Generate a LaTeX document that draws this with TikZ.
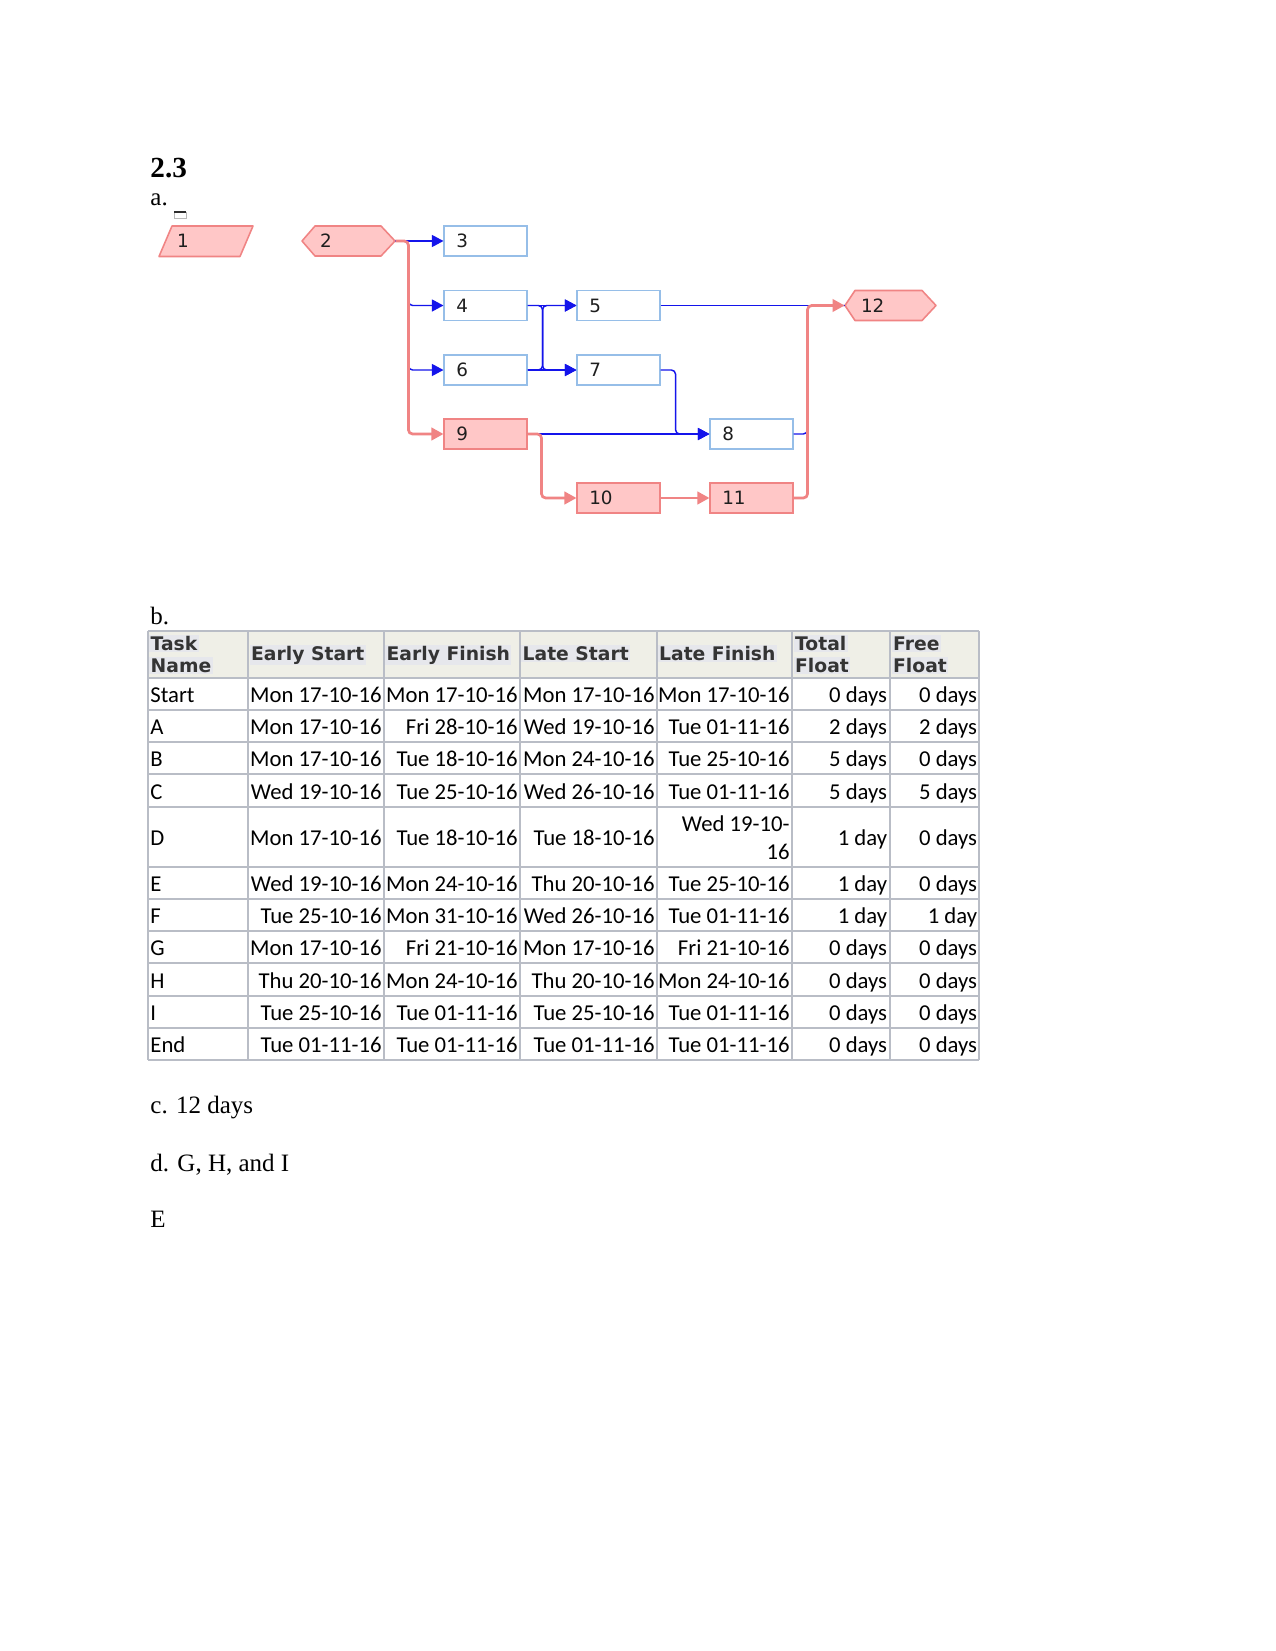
\documentclass[tikz,border=0pt]{standalone}
\usepackage{fontspec}
\setmainfont{Liberation Serif}
\newfontfamily\nodefont{DejaVu Sans}
\newfontfamily\tabfont{Carlito}
\usetikzlibrary{arrows.meta}
\definecolor{pinkfill}{RGB}{255,199,199}
\definecolor{pinkline}{RGB}{240,132,132}
\definecolor{boxblue}{RGB}{150,190,232}
\definecolor{linkblue}{RGB}{20,20,235}
\definecolor{headfill}{RGB}{239,239,231}
\definecolor{headhl}{RGB}{230,231,236}
\definecolor{gridgray}{RGB}{185,189,198}
\definecolor{headtext}{RGB}{52,52,52}
\definecolor{txt}{RGB}{30,30,30}
\tikzset{
  tbox/.style={rectangle, draw=boxblue, fill=white, line width=0.75pt,
    minimum height=14.4pt, inner ysep=0pt, inner xsep=5.76pt, text width=28.08pt,
    align=left, font=\nodefont\fontsize{8.8}{10}\selectfont, text=txt},
  cbox/.style={tbox, draw=pinkline, fill=pinkfill},
  shapelabel/.style={rectangle, minimum height=14.4pt, inner ysep=0pt, align=left,
    font=\nodefont\fontsize{8.8}{10}\selectfont, text=txt},
  critshape/.style={draw=pinkline, fill=pinkfill, line width=0.75pt, line join=round},
  bl/.style={linkblue, line width=0.7pt, rounded corners=2pt},
  rd/.style={pinkline, line width=1.3pt, rounded corners=2pt},
  btip/.style={-{Triangle[length=5.6pt,width=5.8pt]}},
  rtip/.style={-{Triangle[length=5.8pt,width=6pt]}},
  cell/.style={inner sep=0pt, font=\tabfont\fontsize{10.9}{12}\selectfont, text=black},
  head/.style={inner sep=0.6pt, fill=headhl, text=headtext, font=\nodefont\bfseries\fontsize{9}{10}\selectfont},
  gridline/.style={gridgray, line width=0.6pt},
  para/.style={inner sep=0pt, font=\fontsize{12}{14}\selectfont},
}
\begin{document}
\begin{tikzpicture}[x=0.48pt,y=-0.48pt]
\fill[white] (0,0) rectangle (1275,1651);
\useasboundingbox (0,0) rectangle (1275,1651);

% headings
\node[anchor=base west, inner sep=0pt, font=\fontsize{14}{16}\selectfont\bfseries] (title) at (150,178) {2.3};
\node[para, anchor=base west] (pa) at (150,206) {a.};
\draw[gray!55, line width=0.4pt] (174,212) rectangle (186,218);
\draw[gray!35!black, line width=0.7pt] (174,212) -- (186,212);

% shapes of 1, 2, 12
\filldraw[critshape] (172,226) -- (253,226) -- (240,256.5) -- (159,256.5) -- cycle;
\node[shapelabel, minimum width=45.12pt, text width=27.84pt, inner xsep=8.64pt] (n1) at (206,241) {1};
\filldraw[critshape] (302,241) -- (315,226) -- (381,226) -- (395,241) -- (381,256) -- (315,256) -- cycle;
\node[shapelabel, minimum width=44.64pt, text width=27.36pt, inner xsep=8.64pt] (n2) at (348.5,241) {2};
\filldraw[critshape] (845,305.5) -- (855,290.5) -- (922,290.5) -- (936,305.5) -- (922,320.5) -- (855,320.5) -- cycle;
\node[shapelabel, minimum width=43.68pt, text width=28.32pt, inner xsep=7.68pt] (n12) at (890.5,305.5) {12};

% boxes
\node[tbox] (n3) at (485.5,241) {3};
\node[tbox] (n4) at (485.5,305.5) {4};
\node[tbox] (n6) at (485.5,370) {6};
\node[cbox] (n9) at (485.5,434) {9};
\node[tbox] (n5) at (618.5,305.5) {5};
\node[tbox] (n7) at (618.5,370) {7};
\node[tbox] (n8) at (751.5,434) {8};
\node[cbox] (n10) at (618.5,498) {10};
\node[cbox] (n11) at (751.5,498) {11};

% blue links
\draw[bl, btip] (n2.east) -- (n3.west);
\draw[bl, btip] (n2.east) -- ++(13,0) |- (n4.west);
\draw[bl, btip] (n2.east) -- ++(13,0) |- (n6.west);
\draw[bl, btip] (n4.east) -- (n5.west);
\draw[bl, btip] (n4.east) -- ++(15,0) |- (n7.west);
\draw[bl, btip] (n6.east) -- ++(15,0) |- (n5.west);
\draw[bl, btip] (n6.east) -- (n7.west);
\draw[bl, btip] (n7.east) -- ++(15,0) |- (n8.west);
\draw[bl, btip] (n9.east) -- (n8.west);
\draw[bl] (n5.east) -- (n12.west);
\draw[bl] (n8.east) -- ++(14,0) |- (n12.west);

% red (critical) links
\draw[rd, rtip] (n2.east) -- ++(13,0) |- (n9.west);
\draw[rd, rtip] (n9.east) -- ++(14,0) |- (n10.west);
\draw[rd, rtip] (n10.east) -- (n11.west);
\draw[rd, rtip] (n11.east) -- ++(14,0) |- (n12.west);

% table
\node[para, anchor=base west] (pb) at (150,624) {b.};
\fill[headfill] (148,631) rectangle (979,678);
\foreach \yy in {631,678,710,742,774,867,899,931,963,996,1028,1060}
  \draw[gridline] (148,\yy) -- (979,\yy);
\draw[gridline, line width=1pt] (148,807) -- (979,807);
\foreach \xx in {148,248,384,520,657,792,979}
  \draw[gridline] (\xx,631) -- (\xx,1060);
\draw[gridline, line width=1pt] (890,631) -- (890,1060);

\node[head, anchor=base west] (hT1) at (149,650) {Task};
\node[head, anchor=base west] (hT2) at (149,672) {Name};
\node[head, anchor=base west] (hES) at (249.5,660) {Early Start};
\node[head, anchor=base west] (hEF) at (385,660) {Early Finish};
\node[head, anchor=base west] (hLS) at (521,660) {Late Start};
\node[head, anchor=base west] (hLF) at (657.5,660) {Late Finish};
\node[head, anchor=base west] (hTF1) at (793.5,650) {Total};
\node[head, anchor=base west] (hTF2) at (793.5,672) {Float};
\node[head, anchor=base west] (hFF1) at (891.5,650) {Free};
\node[head, anchor=base west] (hFF2) at (891.5,672) {Float};

\foreach \yb/\tn/\es/\ef/\ls/\lf/\tf/\ff [count=\i] in {
  702.8/Start/Mon 17-10-16/Mon 17-10-16/Mon 17-10-16/Mon 17-10-16/0 days/0 days,
  734.8/A/Mon 17-10-16/Fri 28-10-16/Wed 19-10-16/Tue 01-11-16/2 days/2 days,
  766.8/B/Mon 17-10-16/Tue 18-10-16/Mon 24-10-16/Tue 25-10-16/5 days/0 days,
  799.3/C/Wed 19-10-16/Tue 25-10-16/Wed 26-10-16/Tue 01-11-16/5 days/5 days,
  891.8/E/Wed 19-10-16/Mon 24-10-16/Thu 20-10-16/Tue 25-10-16/1 day/0 days,
  923.8/F/Tue 25-10-16/Mon 31-10-16/Wed 26-10-16/Tue 01-11-16/1 day/1 day,
  955.8/G/Mon 17-10-16/Fri 21-10-16/Mon 17-10-16/Fri 21-10-16/0 days/0 days,
  988.3/H/Thu 20-10-16/Mon 24-10-16/Thu 20-10-16/Mon 24-10-16/0 days/0 days,
  1020.8/I/Tue 25-10-16/Tue 01-11-16/Tue 25-10-16/Tue 01-11-16/0 days/0 days,
  1052.8/End/Tue 01-11-16/Tue 01-11-16/Tue 01-11-16/Tue 01-11-16/0 days/0 days}{
  \node[cell, anchor=base west] (tn\i) at (150,\yb) {\tn};
  \node[cell, anchor=base east] (es\i) at (382,\yb) {\es};
  \node[cell, anchor=base east] (ef\i) at (518,\yb) {\ef};
  \node[cell, anchor=base east] (ls\i) at (655,\yb) {\ls};
  \node[cell, anchor=base east] (lf\i) at (790,\yb) {\lf};
  \node[cell, anchor=base east] (tf\i) at (887.5,\yb) {\tf};
  \node[cell, anchor=base east] (ff\i) at (977.5,\yb) {\ff};
}
% row D
\node[cell, anchor=base west] (tnD) at (150,845.8) {D};
\node[cell, anchor=base east] (esD) at (382,845.8) {Mon 17-10-16};
\node[cell, anchor=base east] (efD) at (518,845.8) {Tue 18-10-16};
\node[cell, anchor=base east] (lsD) at (655,845.8) {Tue 18-10-16};
\node[cell, anchor=base east] (lfD1) at (790,831.7) {Wed 19-10-};
\node[cell, anchor=base east] (lfD2) at (790,859) {16};
\node[cell, anchor=base east] (tfD) at (887.5,845.8) {1 day};
\node[cell, anchor=base east] (ffD) at (977.5,845.8) {0 days};

% answers
\node[para, anchor=base west] (pc) at (150,1113) {c. 12 days};
\node[para, anchor=base west] (pd) at (150,1171) {d. G, H, and I};
\node[para, anchor=base west] (pe) at (150,1227) {E};
\end{tikzpicture}
\end{document}
